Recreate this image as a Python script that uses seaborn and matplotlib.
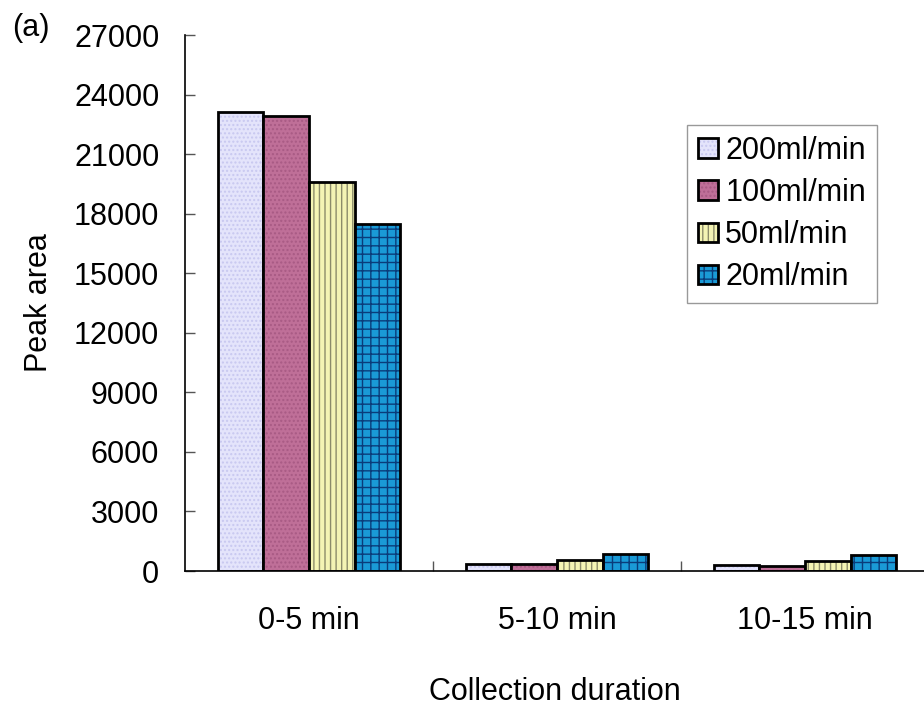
import matplotlib
matplotlib.use("Agg")
import matplotlib.pyplot as plt
import matplotlib.colors as mcolors
import seaborn as sns
import pandas as pd
from matplotlib.ticker import FixedLocator

categories = ["0-5 min", "5-10 min", "10-15 min"]
series = ["200ml/min", "100ml/min", "50ml/min", "20ml/min"]
v200 = [23100, 350, 300]
v100 = [22900, 350, 250]
v50 = [19600, 550, 500]
v20 = [17500, 850, 790]
yticks = [0, 3000, 6000, 9000, 12000, 15000, 18000, 21000, 24000, 27000]

rows = []
for s, vals in zip(series, [v200, v100, v50, v20]):
    for c, v in zip(categories, vals):
        rows.append({"cat": c, "series": s, "value": v})
df = pd.DataFrame(rows)

sns.set_style("white")
plt.rcParams['font.family'] = ['Liberation Sans', 'DejaVu Sans']
plt.rcParams['text.color'] = 'black'
plt.rcParams['axes.labelcolor'] = 'black'
plt.rcParams['xtick.color'] = 'black'
plt.rcParams['ytick.color'] = 'black'

FS = 22
fills = ["#E4E4FB", "#BF6F98", "#F4F4B4", "#1A9AD6"]
hatch_cols = ["#C8C8F0", "#A85A84", "#8C8C6A", "#0A3C7A"]
hatches = ["....", "....", "|||", "++"]

fig = plt.figure(figsize=(9.24, 7.06), dpi=100)
ax = fig.add_axes([0.2002, 0.1912, 0.7998, 0.7592])

sns.barplot(data=df, x="cat", y="value", hue="series", order=categories,
            hue_order=series, palette=fills, width=0.735, ax=ax,
            edgecolor="black", linewidth=2, legend=True, saturation=1)

for i, container in enumerate(ax.containers):
    for bar in container:
        bar.set_facecolor(fills[i])
        bar.set_edgecolor("black")
        bar.set_linewidth(2)
        bar.set_hatch(hatches[i])
        bar._hatch_color = mcolors.to_rgba(hatch_cols[i])

ax.set_ylim(0, 27000)
ax.set_xlim(-0.5, 2.48)
ax.set_yticks(yticks)
ax.set_yticklabels([str(t) for t in yticks], fontsize=FS)
ax.tick_params(axis='y', direction='in', length=7, width=1, color='#555555',
               pad=18.5, left=True, labelcolor='black')
ax.tick_params(axis='x', which='major', length=0, pad=25, labelsize=FS, labelcolor='black')
ax.xaxis.set_minor_locator(FixedLocator([0.5, 1.5]))
ax.tick_params(axis='x', which='minor', direction='in', length=7, width=1,
               color='#555555', bottom=True)

for side in ["top", "right"]:
    ax.spines[side].set_visible(False)
for side in ["left", "bottom"]:
    ax.spines[side].set_color("black")
    ax.spines[side].set_linewidth(1.2)

ax.set_xlabel("Collection duration", fontsize=FS, labelpad=30, color='black')
ax.set_ylabel("Peak area", fontsize=FS, labelpad=14, color='black')

handles, labels = ax.get_legend_handles_labels()
for i, h in enumerate(handles):
    h.set_facecolor(fills[i])
    h.set_edgecolor("black")
    h.set_linewidth(2)
    h.set_hatch(hatches[i])
    h._hatch_color = mcolors.to_rgba(hatch_cols[i])
leg = ax.legend(handles, labels, loc="upper left", bbox_to_anchor=(0.7435, 0.823),
                bbox_transform=fig.transFigure,
                fontsize=FS, frameon=True, fancybox=False, handlelength=0.65,
                handleheight=0.6, handletextpad=0.25, labelspacing=0.4,
                borderpad=0.35, borderaxespad=0, edgecolor="#808080")
leg.get_frame().set_linewidth(1)
for t in leg.get_texts():
    t.set_color('black')

fig.text(0.013, 0.96, "(a)", fontsize=FS, ha="left", va="center", color='black')

fig.savefig("out.png", dpi=100)
